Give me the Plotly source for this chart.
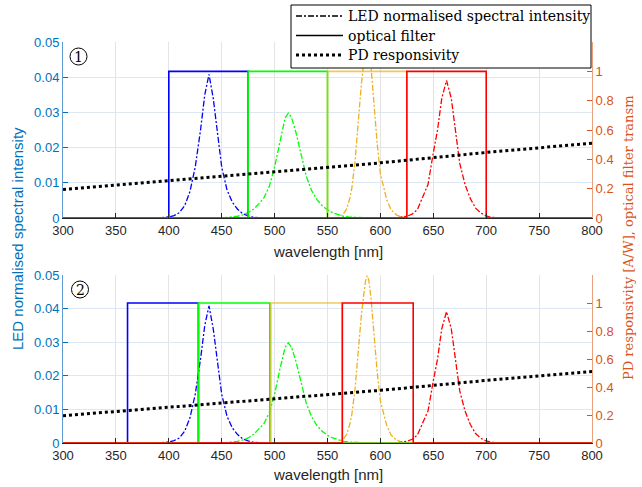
import plotly.graph_objects as go

# ---------------- data ----------------
# x axis ticks
x_ticks = [300, 350, 400, 450, 500, 550, 600, 650, 700, 750, 800]
left_ticks = [0, 0.01, 0.02, 0.03, 0.04, 0.05]
left_ticklabels = ["0", "0.01", "0.02", "0.03", "0.04", "0.05"]
right_ticks = [0, 0.2, 0.4, 0.6, 0.8, 1]
right_ticklabels = ["0", "0.2", "0.4", "0.6", "0.8", "1"]

# LED normalised spectral intensity (left axis)
led_blue_wl = [390, 395, 400, 405, 410, 415, 420, 425, 430, 434, 438, 442, 446, 450, 455, 460, 465, 470, 475, 480, 490]
led_blue_val = [0, 0.0001, 0.0003, 0.0007, 0.0015, 0.0035, 0.0075, 0.0145, 0.025, 0.035, 0.0408, 0.034, 0.0235,
                0.0145, 0.008, 0.0045, 0.0025, 0.0012, 0.0006, 0.0002, 0]
led_green_wl = [450, 455, 460, 465, 470, 475, 480, 485, 490, 495, 500, 505, 510, 513, 516, 520, 525, 530, 535, 540,
                545, 550, 555, 560, 565, 570, 580, 590]
led_green_val = [0, 0.0001, 0.0003, 0.0005, 0.0009, 0.0015, 0.0025, 0.004, 0.0058, 0.009, 0.0145, 0.022, 0.0285,
                 0.0298, 0.0285, 0.0245, 0.018, 0.0118, 0.0078, 0.0052, 0.0035, 0.0023, 0.0015, 0.0009, 0.0005,
                 0.0003, 0.0001, 0]
led_orange_wl = [555, 560, 565, 568, 571, 573, 576, 578, 580, 582, 584, 586, 587.5, 589, 591, 593, 595, 597, 600,
                 603, 606, 610, 615, 620, 625, 630]
led_orange_val = [0, 0.0002, 0.0012, 0.0025, 0.0055, 0.0085, 0.016, 0.024, 0.031, 0.038, 0.0435, 0.0483, 0.0498,
                  0.0485, 0.0435, 0.036, 0.028, 0.021, 0.0125, 0.009, 0.0052, 0.0024, 0.0009, 0.0003, 0.0001, 0]
led_red_wl = [615, 620, 625, 630, 635, 640, 645, 650, 654, 658, 662.5, 667, 671, 675, 680, 685, 690, 695, 700, 705,
              710, 720]
led_red_val = [0, 0.0002, 0.0005, 0.0011, 0.0024, 0.006, 0.0095, 0.0185, 0.025, 0.034, 0.0391, 0.034, 0.025,
               0.0155, 0.0095, 0.0055, 0.0028, 0.0014, 0.0006, 0.0002, 0.0001, 0]

# PD responsivity [A/W] (right axis)
pd_wl = [300, 400, 500, 600, 700, 800]
pd_resp = [0.195, 0.255, 0.317, 0.376, 0.447, 0.51]

# optical filters (pass bands, transmission 1) - panel 1 and panel 2
filter_names = ["blue", "green", "orange", "red"]
filter1_lo = [400, 475, 550, 625]
filter1_hi = [475, 550, 625, 700]
filter2_lo = [361, 428, 496.5, 564]
filter2_hi = [428, 495.5, 564, 631]
filter_trans = [1, 1, 1, 1]

# legend labels
legend_labels = ["LED normalised spectral intensity", "optical filter", "PD responsivity"]

# ---------------- styles ----------------
led_colors = ["#0000FF", "#00FF00", "#EDB120", "#FF0000"]
filter_colors = ["#0000FF", "#00FF00", "rgba(237,177,32,0.72)", "#FF0000"]
BLUE_AX = "#0072BD"
ORANGE_AX = "#D95319"
DARK = "#262626"
SANS = "Liberation Sans, Arial, sans-serif"
SERIF = "DejaVu Serif, serif"
LED_DASH = "6px,2px,2px,2px"
legend_styles = [dict(color="black", width=1.3, dash=LED_DASH),
                 dict(color="black", width=1.5, dash="solid"),
                 dict(color="black", width=3, dash="dot")]

W, H = 642, 487

def px(x):
    return x / W

def py(y):
    return 1 - y / H

leds = [(led_blue_wl, led_blue_val), (led_green_wl, led_green_val),
        (led_orange_wl, led_orange_val), (led_red_wl, led_red_val)]

fig = go.Figure()

panels = [("x", "y", "y2", filter1_lo, filter1_hi), ("x2", "y3", "y4", filter2_lo, filter2_hi)]
for xa, yl, yr, flo, fhi in panels:
    # LED spectra on the left axis
    for (wl, val), c in zip(leds, led_colors):
        fig.add_trace(go.Scatter(x=wl, y=val, mode="lines", showlegend=False, hoverinfo="skip",
                                 name=legend_labels[0],
                                 line=dict(color=c, width=1.3, dash=LED_DASH), xaxis=xa, yaxis=yl))
    # filters on the right axis
    for lo, hi, t, c in zip(flo, fhi, filter_trans, filter_colors):
        fig.add_trace(go.Scatter(x=[300, lo, lo, hi, hi, 800], y=[0, 0, t, t, 0, 0], mode="lines",
                                 showlegend=False, hoverinfo="skip", name=legend_labels[1],
                                 line=dict(color=c, width=1.6), xaxis=xa, yaxis=yr))
    # PD responsivity
    fig.add_trace(go.Scatter(x=pd_wl, y=pd_resp, mode="lines", showlegend=False, hoverinfo="skip",
                             name=legend_labels[2],
                             line=dict(color="black", width=3, dash="dot"), xaxis=xa, yaxis=yr))

xdom = [px(63), px(592)]
top_dom = [py(218), py(42)]
bot_dom = [py(443), py(275)]

def xax(anchor):
    return dict(domain=xdom, anchor=anchor, range=[300, 800], tickvals=x_ticks, automargin=False,
                ticktext=[str(v) for v in x_ticks], ticks="inside", ticklen=5, tickcolor=DARK,
                showline=True, linecolor=DARK, linewidth=1, showgrid=True, gridcolor="#E4E4E4",
                gridwidth=1, zeroline=False, tickfont=dict(family=SANS, size=13, color=DARK))

def yleft(dom, anchor):
    return dict(domain=dom, anchor=anchor, range=[0, 0.05], tickvals=left_ticks, ticktext=left_ticklabels,
                automargin=False,
                ticks="inside", ticklen=5, tickcolor=BLUE_AX, showline=True, linecolor="rgb(95,155,210)",
                linewidth=1, showgrid=True, gridcolor="#DDE8F2", zeroline=False,
                tickfont=dict(family=SANS, size=13, color=BLUE_AX))

def yright(over, anchor):
    return dict(overlaying=over, anchor=anchor, side="right", range=[0, 1.2], tickvals=right_ticks,
                automargin=False,
                ticktext=right_ticklabels, ticks="inside", ticklen=5, tickcolor=ORANGE_AX, showline=True,
                linecolor="rgb(232,160,125)", linewidth=1, showgrid=False, zeroline=False,
                tickfont=dict(family=SANS, size=13, color=ORANGE_AX))

def ann(text, x, y, font, angle=0, xanchor="center"):
    return dict(text=text, x=x, y=y, xref="paper", yref="paper", showarrow=False, textangle=angle,
                xanchor=xanchor, yanchor="middle", font=font)

annotations = [
    ann("wavelength [nm]", px(327.5), py(251), dict(family=SANS, size=15, color=DARK)),
    ann("wavelength [nm]", px(327.5), py(474), dict(family=SANS, size=15, color=DARK)),
    ann("LED normalised spectral intensity", px(17), py(239), dict(family=SANS, size=15, color=BLUE_AX), -90),
    ann("PD responsivity [A/W], optical filter transm", px(628), py(238),
        dict(family=SERIF, size=13, color=ORANGE_AX), -90),
    ann("1", px(78.5), py(56.5), dict(family=SERIF, size=14, color="black")),
    ann("2", px(80), py(289.5), dict(family=SERIF, size=14, color="black")),
]

shapes = [
    dict(type="circle", xref="paper", yref="paper", x0=px(70), x1=px(87), y0=py(65), y1=py(48),
         line=dict(color="black", width=1)),
    dict(type="circle", xref="paper", yref="paper", x0=px(71.5), x1=px(88.5), y0=py(298), y1=py(281),
         line=dict(color="black", width=1)),
    # legend box
    dict(type="rect", xref="paper", yref="paper", x0=px(291), x1=px(591), y0=py(68), y1=py(5),
         fillcolor="white", line=dict(color="black", width=1), layer="above"),
]

legend_rows = [16, 35.5, 55]
for lbl, st, ry in zip(legend_labels, legend_styles, legend_rows):
    shapes.append(dict(type="line", xref="paper", yref="paper", x0=px(296), x1=px(343), y0=py(ry), y1=py(ry),
                       line=st, layer="above"))
    annotations.append(ann(lbl, px(346), py(ry), dict(family=SERIF, size=14, color="black"), xanchor="left"))

fig.update_layout(
    width=W, height=H, autosize=False,
    margin=dict(l=0, r=0, t=0, b=0, pad=0, autoexpand=False),
    paper_bgcolor="white", plot_bgcolor="white",
    xaxis=xax("y"), yaxis=yleft(top_dom, "x"), yaxis2=yright("y", "x"),
    xaxis2=xax("y3"), yaxis3=yleft(bot_dom, "x2"), yaxis4=yright("y3", "x2"),
    showlegend=False,
    annotations=annotations, shapes=shapes,
)

fig.write_html("out.html")
